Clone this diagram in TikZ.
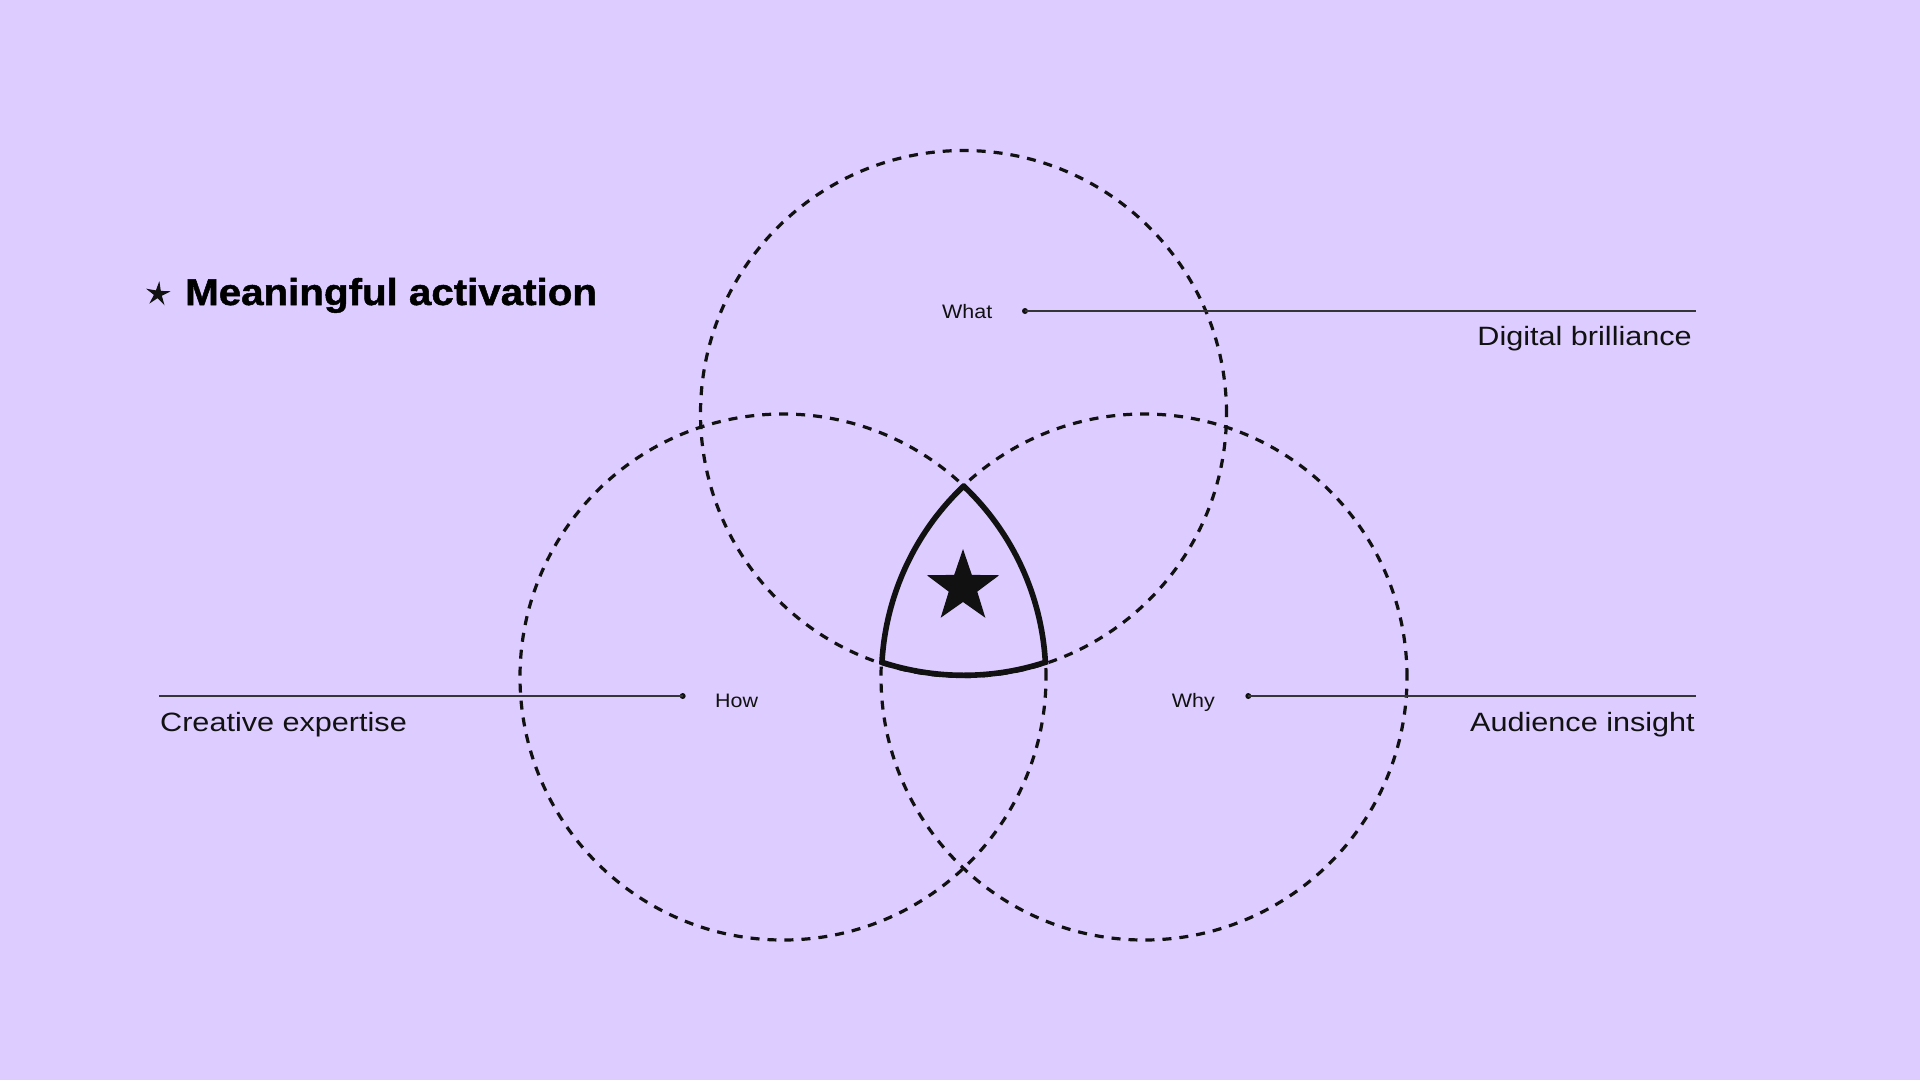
\documentclass[tikz,border=0pt]{standalone}
\usepackage{fontspec}
\setmainfont{Liberation Sans}
\newfontfamily\bodyfont[FakeStretch=1.1]{Liberation Sans}
\newfontfamily\bigfont[FakeStretch=1.155]{Liberation Sans}
\newfontfamily\titlefont[FakeStretch=1.08,FakeBold=1.3]{Liberation Sans Bold}
\definecolor{bg}{HTML}{DDCCFF}
\definecolor{ink}{HTML}{111111}
\tikzset{
  dcirc/.style={draw=ink, line width=3.2pt, dash pattern=on 9pt off 8pt},
  boldline/.style={draw=ink, line width=5.6pt, line join=miter},
  leader/.style={draw=ink!85, line width=1.4pt},
  dotnode/.style={circle, fill=ink, inner sep=0pt, minimum size=6pt},
  biglab/.style={inner sep=0pt, text=ink, font=\bigfont\fontsize{26.5}{30}\selectfont},
  smalllab/.style={inner sep=0pt, text=ink, font=\bodyfont\fontsize{19.5}{22}\selectfont}
}
\begin{document}
\begin{tikzpicture}[x=1pt,y=1pt]
\fill[bg] (0,0) rectangle (1920,-1080);
\useasboundingbox (0,0) rectangle (1920,-1080);

% circle centres
\coordinate (cT) at (963.5,-413.5);
\coordinate (cL) at (783,-677);
\coordinate (cR) at (1144,-677);
\draw[dcirc] (cT) circle[radius=263];
\draw[dcirc] (cL) circle[radius=263];
\draw[dcirc] (cR) circle[radius=263];

% central intersection outline
\coordinate (vTop) at (963.5,-486.2);
\draw[boldline] (vTop) arc[start angle=133.5, end angle=176.8, radius=263]
  arc[start angle=251.9, end angle=288.1, radius=263]
  arc[start angle=3.2, end angle=46.5, radius=263] -- cycle;

% central star
\coordinate (mstar) at (963,-587);
\fill[ink, shift={(mstar)}] (90:38) -- (126:15) -- (162:38) -- (198:15) -- (234:38)
  -- (270:15) -- (306:38) -- (342:15) -- (18:38) -- (54:15) -- cycle;

% title icon
\coordinate (ticon) at (158,-294);
\fill[ink, shift={(ticon)}, rotate=-6] (90:13) -- (126:4.2) -- (162:13) -- (198:4.2) -- (234:13)
  -- (270:4.2) -- (306:13) -- (342:4.2) -- (18:13) -- (54:4.2) -- cycle;
\node[anchor=base west, inner sep=0pt, text=black, font=\titlefont\fontsize{37.3}{40}\selectfont] (title) at (185,-305) {Meaningful activation};

% labels
\node[smalllab, anchor=base west] (what) at (942,-318.3) {What};
\node[smalllab, anchor=base west] (how) at (715,-707.7) {How};
\node[smalllab, anchor=base west] (why) at (1171.7,-707.3) {Why};

\node[biglab, anchor=base east] (digital) at (1692,-345) {Digital brilliance};
\node[biglab, anchor=base west] (creative) at (160,-731.7) {Creative expertise};
\node[biglab, anchor=base east] (audience) at (1695,-731) {Audience insight};

% leader lines
\node[dotnode] (dWhat) at (1025,-311) {};
\coordinate (eWhat) at (1696,-311);
\draw[leader] (dWhat.center) -- (eWhat);

\node[dotnode] (dHow) at (682.7,-696) {};
\coordinate (sHow) at (159,-696);
\draw[leader] (sHow) -- (dHow.center);

\node[dotnode] (dWhy) at (1248.3,-696) {};
\coordinate (eWhy) at (1696,-696);
\draw[leader] (dWhy.center) -- (eWhy);
\end{tikzpicture}
\end{document}
